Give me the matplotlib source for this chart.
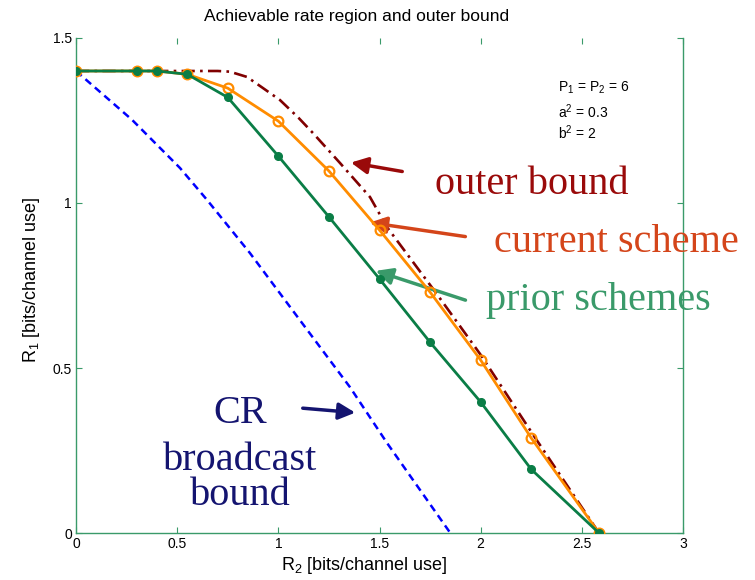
import matplotlib
matplotlib.use("Agg")
import matplotlib.pyplot as plt

# rate pairs (R2, R1) in bits/channel use
r2_prior = [0.0, 0.3, 0.4, 0.55, 0.75, 1.0, 1.25, 1.5, 1.75, 2.0, 2.25, 2.585]
r1_prior = [1.4, 1.4, 1.4, 1.39, 1.32, 1.142, 0.958, 0.77, 0.578, 0.397, 0.193, 0.0]

r2_current = [0.0, 0.3, 0.4, 0.55, 0.75, 1.0, 1.25, 1.5, 1.75, 2.0, 2.25, 2.585]
r1_current = [1.4, 1.4, 1.4, 1.39, 1.348, 1.248, 1.097, 0.918, 0.73, 0.524, 0.288, 0.0]

r2_outer = [0.0, 0.7, 0.76, 0.845, 0.92, 1.008, 1.1, 1.171, 1.305, 1.453, 1.537, 1.78, 2.0, 2.27, 2.585]
r1_outer = [1.4, 1.4, 1.398, 1.382, 1.35, 1.312, 1.258, 1.212, 1.121, 1.018, 0.927, 0.727, 0.54, 0.288, 0.0]

r2_cr = [0.0, 0.277, 0.514, 0.648, 0.86, 1.058, 1.354, 1.537, 1.85]
r1_cr = [1.4, 1.252, 1.106, 1.009, 0.848, 0.685, 0.442, 0.273, 0.0]

xticks = [0, 0.5, 1, 1.5, 2, 2.5, 3]
yticks = [0, 0.5, 1, 1.5]

params = ["P$_1$ = P$_2$ = 6", "a$^2$ = 0.3", "b$^2$ = 2"]
cr_lines = ["CR", "broadcast", "bound"]

GREEN = "#0a7d46"
ORANGE = "#ff8c00"
DARKRED = "#800000"
BLUE = "#0000ff"
SPINE = "#3a9a6a"

sans = "Liberation Sans"
serif = "Liberation Serif"
plt.rcParams["mathtext.fontset"] = "custom"
plt.rcParams["mathtext.rm"] = sans
plt.rcParams["mathtext.it"] = sans

fig = plt.figure(figsize=(7.55, 5.8), dpi=100)
ax = fig.add_axes([0.1007, 0.081, 0.8039, 0.8535])

ax.plot(r2_cr, r1_cr, color=BLUE, ls=(0, (3, 2)), lw=1.8, zorder=2)
ax.plot(r2_outer, r1_outer, color=DARKRED, ls=(0, (5, 2, 1, 2)), lw=1.9, zorder=3)
ax.plot(r2_current, r1_current, color=ORANGE, lw=2.0, marker="o", ms=7,
        mfc="none", mew=1.6, zorder=4)
ax.plot(r2_prior, r1_prior, color=GREEN, lw=2.0, marker="o", ms=5.5,
        mfc=GREEN, mec=GREEN, zorder=5)

ax.set_xlim(0, 3)
ax.set_ylim(0, 1.5)
ax.set_xticks(xticks)
ax.set_yticks(yticks)
ax.set_xticklabels([f"{t:g}" for t in xticks])
ax.set_yticklabels([f"{t:g}" for t in yticks])
ax.tick_params(direction="in", length=4, width=0.8, color=SPINE, labelsize=10,
               top=True, right=True, pad=3)
for side in ["left", "bottom", "right"]:
    ax.spines[side].set_color(SPINE)
    ax.spines[side].set_linewidth(1.0)
ax.spines["top"].set_visible(False)

ax.set_xlabel("R$_2$ [bits/channel use]", fontsize=13, family=sans, labelpad=1)
ax.xaxis.set_label_coords(0.475, -0.045)
ax.set_ylabel("R$_1$ [bits/channel use]", fontsize=13, family=sans, labelpad=8)
ax.yaxis.set_label_coords(-0.056, 0.511)
for lbl in ax.get_xticklabels() + ax.get_yticklabels():
    lbl.set_family(sans)
ax.set_title("Achievable rate region and outer bound", fontsize=12.5, family=sans,
             x=0.463, pad=12)

for txt, y in zip(params, [1.348, 1.276, 1.212]):
    ax.text(2.383, y, txt, fontsize=10, family=sans, va="center", ha="left")

arrow_kw = dict(arrowstyle="-|>", lw=2.5, mutation_scale=25)

ax.text(2.254, 1.055, "outer bound", color="#9a0a0a", fontsize=29, family=serif,
        ha="center", va="center")
ax.annotate("", xy=(1.345, 1.124), xytext=(1.626, 1.094),
            arrowprops=dict(color="#9a0a0a", **arrow_kw))

ax.text(2.669, 0.879, "current scheme", color="#d4451a", fontsize=29, family=serif,
        ha="center", va="center")
ax.annotate("", xy=(1.438, 0.942), xytext=(1.938, 0.897),
            arrowprops=dict(color="#d4451a", **arrow_kw))

ax.text(2.58, 0.706, "prior schemes", color="#3a9a6a", fontsize=29, family=serif,
        ha="center", va="center")
ax.annotate("", xy=(1.468, 0.797), xytext=(1.938, 0.703),
            arrowprops=dict(color="#3a9a6a", **arrow_kw))

for txt, y in zip(cr_lines, [0.333, 0.191, 0.085]):
    ax.text(0.81, y, txt, color="#141470", fontsize=29, family=serif,
            ha="center", va="baseline")
ax.annotate("", xy=(1.394, 0.364), xytext=(1.107, 0.379),
            arrowprops=dict(color="#141470", **arrow_kw))

fig.savefig("out.png", dpi=100)
